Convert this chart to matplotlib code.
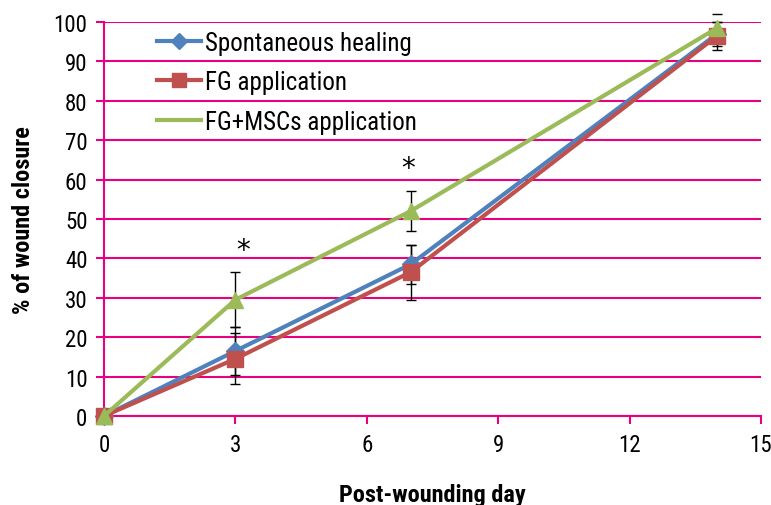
import matplotlib
matplotlib.use('Agg')
import matplotlib.pyplot as plt
from matplotlib.lines import Line2D

plt.rcParams['font.family'] = ['Liberation Sans Narrow', 'Roboto Condensed',
                               'Barlow Semi Condensed', 'DejaVu Sans']

# ---- data ----
days = [0, 3, 7, 14]
spont = [0, 16.5, 38.5, 97.0]
spont_err = [0, 6.0, 5.0, 3.0]
fg = [0, 14.5, 36.5, 96.5]
fg_err = [0, 6.5, 7.0, 3.5]
fgmsc = [0, 29.5, 52.0, 98.5]
fgmsc_err = [0, 7.0, 5.0, 3.5]
labels = ['Spontaneous healing', 'FG application', 'FG+MSCs application']
star_x = [3.17, 6.94]
star_y = [42, 63]

BLUE = '#4F81BD'
RED = '#C0504D'
GREEN = '#9BBB59'
PINK = '#E8007F'

fig = plt.figure(figsize=(7.71, 5.06), dpi=100)
ax = fig.add_axes([0.135, 0.176, 0.852, 0.7785])

for y, e in [(spont, spont_err), (fg, fg_err), (fgmsc, fgmsc_err)]:
    ax.errorbar(days, y, yerr=e, fmt='none', ecolor='black', elinewidth=1.0,
                capsize=3.5, capthick=1.0, zorder=2)

ax.plot(days, spont, color=BLUE, lw=3, marker='D', ms=9, zorder=3)
ax.plot(days, fg, color=RED, lw=3, marker='s', ms=11, zorder=4)
ax.plot(days, fgmsc, color=GREEN, lw=3, marker='^', ms=11, zorder=5)

for x, y in zip(star_x, star_y):
    ax.text(x, y, '*', fontsize=20, ha='center', va='center', color='black',
            family='DejaVu Sans')

ax.set_xlim(0, 15)
ax.set_ylim(0, 100)
ax.set_xticks(range(0, 16, 3))
ax.set_yticks(range(0, 101, 10))
ax.yaxis.grid(True, color=PINK, lw=1.5)
ax.set_axisbelow(True)
for s in ['top', 'right']:
    ax.spines[s].set_visible(False)
for s in ['left', 'bottom']:
    ax.spines[s].set_color(PINK)
    ax.spines[s].set_linewidth(1.5)
ax.tick_params(axis='both', colors=PINK, width=1.5, length=6, labelcolor='black',
               labelsize=16.5)
ax.tick_params(axis='x', pad=6)
ax.tick_params(axis='y', pad=6)
for ln in ax.lines:
    ln.set_clip_on(False)

ax.set_xlabel('Post-wounding day', fontsize=17.5, fontweight='bold', labelpad=20)
ax.set_ylabel('% of wound closure', fontsize=17.5, fontweight='bold', labelpad=13)

handles = [
    Line2D([], [], color=BLUE, lw=3, marker='D', ms=8),
    Line2D([], [], color=RED, lw=3, marker='s', ms=10),
    Line2D([], [], color=GREEN, lw=3),
]
ax.legend(handles, labels, loc='upper left', bbox_to_anchor=(0.081, 0.978),
          frameon=False, fontsize=18, handlelength=1.75, handletextpad=0.15,
          labelspacing=0.62, borderpad=0, borderaxespad=0)

fig.savefig('out.png', dpi=100)
